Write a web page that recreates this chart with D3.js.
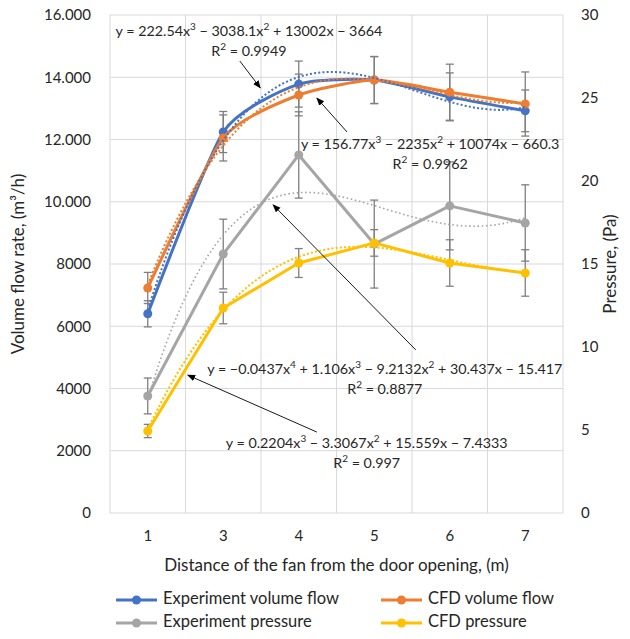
<!DOCTYPE html>
<html>
<head>
<meta charset="utf-8">
<script src="https://cdn.jsdelivr.net/npm/d3@7"></script>
<style>
  body { margin: 0; background: #fff; }
  text { font-family: Lato, "Open Sans", sans-serif; fill: #262626; }
</style>
</head>
<body>
<svg id="chart" width="630" height="639"></svg>
<script>
// ---- data ----
const distances = ["1", "3", "4", "5", "6", "7"];

const expFlow = [6400, 12240, 13780, 13910, 13370, 12920];
const expFlowErr = [420, 660, 740, 755, 770, 670];
const cfdFlow = [7230, 12050, 13430, 13910, 13520, 13140];
const cfdFlowErr = [500, 740, 670, 755, 900, 1030];

const expPressure = [7.05, 15.6, 21.57, 16.2, 18.5, 17.47];
const expPressureErr = [1.08, 2.1, 2.6, 2.65, 2.65, 2.3];
const cfdPressure = [4.94, 12.35, 15.06, 16.27, 15.06, 14.46];
const cfdPressureErr = [0.4, 0.95, 0.87, 0.8, 1.4, 1.4];

const flowTicks = [0, 2000, 4000, 6000, 8000, 10000, 12000, 14000, 16000];
const flowTickLabels = ["0", "2000", "4000", "6000", "8000", "10.000", "12.000", "14.000", "16.000"];
const pressureTicks = [0, 5, 10, 15, 20, 25, 30];

// trendline coefficients (highest power first), x = point index 1..6
const expFlowFit = [222.54, -3038.1, 13002, -3664];
const cfdFlowFit = [156.77, -2235, 10074, -660.3];
const expPressureFit = [-0.0437, 1.106, -9.2132, 30.437, -15.417];
const cfdPressureFit = [0.2204, -3.3067, 15.559, -7.4333];

const seriesNames = ["Experiment volume flow", "CFD volume flow", "Experiment pressure", "CFD pressure"];

// equation boxes: [point index, left-axis value] of the first line centre
const equationText = [
  ["y = 222.54x^3 − 3038.1x^2 + 13002x − 3664", "R^2 = 0.9949"],
  ["y = 156.77x^3 − 2235x^2 + 10074x − 660.3", "R^2 = 0.9962"],
  ["y = −0.0437x^4 + 1.106x^3 − 9.2132x^2 + 30.437x − 15.417", "R^2 = 0.8877"],
  ["y = 0.2204x^3 − 3.3067x^2 + 15.559x − 7.4333", "R^2 = 0.997"]
];
const equationAt = [[2.34, 15500], [4.74, 11850], [4.14, 4630], [3.90, 2250]];
// arrows: from / to, as [point index, left-axis value]
const arrowFrom = [[2.22, 14520], [3.64, 12240], [4.55, 5240], [3.24, 2600]];
const arrowTo = [[2.49, 13660], [3.24, 13330], [2.66, 9900], [1.53, 4430]];

// ---- layout ----
const width = 630, height = 639;
const margin = { top: 15, right: 67, bottom: 126, left: 110 };
const colors = { blue: "#4472C4", orange: "#ED7D31", grey: "#A5A5A5", yellow: "#FFC000" };

const svg = d3.select("#chart");
svg.append("defs").append("marker")
  .attr("id", "arrowhead")
  .attr("viewBox", "0 0 10 10")
  .attr("refX", 9).attr("refY", 5)
  .attr("markerWidth", 9).attr("markerHeight", 9)
  .attr("orient", "auto")
  .append("path").attr("d", "M0,1 L10,5 L0,9 z").attr("fill", "#000");

const x = d3.scaleBand().domain(distances).range([margin.left, width - margin.right]);
const xIndex = d3.scaleLinear().domain([0.5, distances.length + 0.5]).range([margin.left, width - margin.right]);
const yLeft = d3.scaleLinear().domain([0, 16000]).range([height - margin.bottom, margin.top]);
const yRight = d3.scaleLinear().domain([0, 30]).range([height - margin.bottom, margin.top]);

// gridlines
const grid = svg.append("g").attr("stroke", "#d9d9d9").attr("stroke-width", 1);
grid.selectAll("line.h").data(flowTicks).join("line")
  .attr("x1", margin.left).attr("x2", width - margin.right)
  .attr("y1", d => yLeft(d)).attr("y2", d => yLeft(d));
const vLines = distances.map(d => x(d)).concat([x.range()[1]]);
grid.selectAll("line.v").data(vLines).join("line")
  .attr("x1", d => d).attr("x2", d => d)
  .attr("y1", margin.top).attr("y2", height - margin.bottom);

// axes
const leftAxis = svg.append("g")
  .attr("transform", `translate(${margin.left - 16},0)`)
  .call(d3.axisLeft(yLeft).tickValues(flowTicks).tickSize(0)
    .tickFormat((d, i) => flowTickLabels[i]));
const rightAxis = svg.append("g")
  .attr("transform", `translate(${width - margin.right + 15},0)`)
  .call(d3.axisRight(yRight).tickValues(pressureTicks).tickSize(0));
const bottomAxis = svg.append("g")
  .attr("transform", `translate(0,${height - margin.bottom + 14})`)
  .call(d3.axisBottom(x).tickSize(0));
[leftAxis, rightAxis, bottomAxis].forEach(g => {
  g.select(".domain").remove();
  g.selectAll("text").attr("font-family", "Lato").attr("font-size", 15).attr("fill", "#404040");
});

// axis titles
svg.append("text")
  .attr("transform", `translate(20,${(margin.top + height - margin.bottom) / 2}) rotate(-90)`)
  .attr("text-anchor", "middle").attr("dominant-baseline", "middle")
  .attr("font-size", 17).text("Volume flow rate, (m³/h)");
svg.append("text")
  .attr("transform", `translate(612,${(margin.top + height - margin.bottom) / 2}) rotate(-90)`)
  .attr("text-anchor", "middle").attr("dominant-baseline", "middle")
  .attr("font-size", 17).text("Pressure, (Pa)");
svg.append("text")
  .attr("x", (margin.left + width - margin.right) / 2).attr("y", 567)
  .attr("text-anchor", "middle").attr("dominant-baseline", "middle")
  .attr("font-size", 17).text("Distance of the fan from the door opening, (m)");

const series = [
  { values: expFlow, err: expFlowErr, fit: expFlowFit, y: yLeft, color: colors.blue, smooth: true },
  { values: cfdFlow, err: cfdFlowErr, fit: cfdFlowFit, y: yLeft, color: colors.orange, smooth: true },
  { values: expPressure, err: expPressureErr, fit: expPressureFit, y: yRight, color: colors.grey, smooth: false },
  { values: cfdPressure, err: cfdPressureErr, fit: cfdPressureFit, y: yRight, color: colors.yellow, smooth: false }
];
const cx = d => x(d) + x.bandwidth() / 2;

// error bars
const errG = svg.append("g").attr("stroke", "#7f7f7f").attr("stroke-width", 1.3);
series.forEach(s => {
  distances.forEach((d, i) => {
    const top = s.y(s.values[i] + s.err[i]);
    const bottom = s.y(s.values[i] - s.err[i]);
    errG.append("line").attr("x1", cx(d)).attr("x2", cx(d)).attr("y1", top).attr("y2", bottom);
    [top, bottom].forEach(yy => errG.append("line")
      .attr("x1", cx(d) - 4).attr("x2", cx(d) + 4).attr("y1", yy).attr("y2", yy));
  });
});

// series lines + markers
series.forEach(s => {
  const line = d3.line()
    .x((v, i) => cx(distances[i]))
    .y(v => s.y(v))
    .curve(s.smooth ? d3.curveCardinal.tension(0.4) : d3.curveLinear);
  svg.append("path").attr("d", line(s.values))
    .attr("fill", "none").attr("stroke", s.color).attr("stroke-width", 3)
    .attr("stroke-linejoin", "round");
  svg.selectAll(null).data(s.values).join("circle")
    .attr("cx", (v, i) => cx(distances[i])).attr("cy", v => s.y(v))
    .attr("r", 4.5).attr("fill", s.color);
});

// polynomial trendlines
const poly = (c, t) => c.reduce((acc, k) => acc * t + k, 0);
series.forEach((s, si) => {
  const ts = d3.range(1, distances.length + 0.001, 0.05);
  const trend = d3.line().x(t => xIndex(t)).y(t => s.y(poly(s.fit, t)));
  svg.append("path").attr("d", trend(ts))
    .attr("fill", "none").attr("stroke", s.color)
    .attr("stroke-width", si === 2 ? 1.6 : 2)
    .attr("stroke-dasharray", si === 2 ? "1.6,2.6" : "2,2.2");
});

// arrows
arrowFrom.forEach((f, i) => {
  const t = arrowTo[i];
  svg.append("line")
    .attr("x1", xIndex(f[0])).attr("y1", yLeft(f[1]))
    .attr("x2", xIndex(t[0])).attr("y2", yLeft(t[1]))
    .attr("stroke", "#000").attr("stroke-width", 0.9)
    .attr("marker-end", "url(#arrowhead)");
});

// equation labels
function richText(sel, str) {
  str.split(/(\^\d)/).forEach(part => {
    if (part.startsWith("^")) {
      sel.append("tspan").attr("baseline-shift", "super").attr("font-size", "70%").text(part.slice(1));
    } else if (part) {
      sel.append("tspan").text(part);
    }
  });
}
equationText.forEach((lines, i) => {
  const [k, v] = equationAt[i];
  lines.forEach((ln, j) => {
    const t = svg.append("text")
      .attr("x", xIndex(k)).attr("y", yLeft(v) + j * 20 + 5)
      .attr("text-anchor", "middle").attr("font-size", 14.3).attr("fill", "#000");
    richText(t, ln);
  });
});

// legend
const legendCols = [116, 381], legendRows = [600, 623];
const legendColor = [colors.blue, colors.orange, colors.grey, colors.yellow];
seriesNames.forEach((name, i) => {
  const lx = legendCols[i % 2], ly = legendRows[Math.floor(i / 2)];
  const g = svg.append("g");
  g.append("line").attr("x1", lx).attr("x2", lx + 41).attr("y1", ly).attr("y2", ly)
    .attr("stroke", legendColor[i]).attr("stroke-width", 3);
  g.append("circle").attr("cx", lx + 20.5).attr("cy", ly).attr("r", 4.5).attr("fill", legendColor[i]);
  g.append("text").attr("x", lx + 47).attr("y", ly).attr("dominant-baseline", "middle")
    .attr("font-size", 16.5).text(name);
});
</script>
</body>
</html>
